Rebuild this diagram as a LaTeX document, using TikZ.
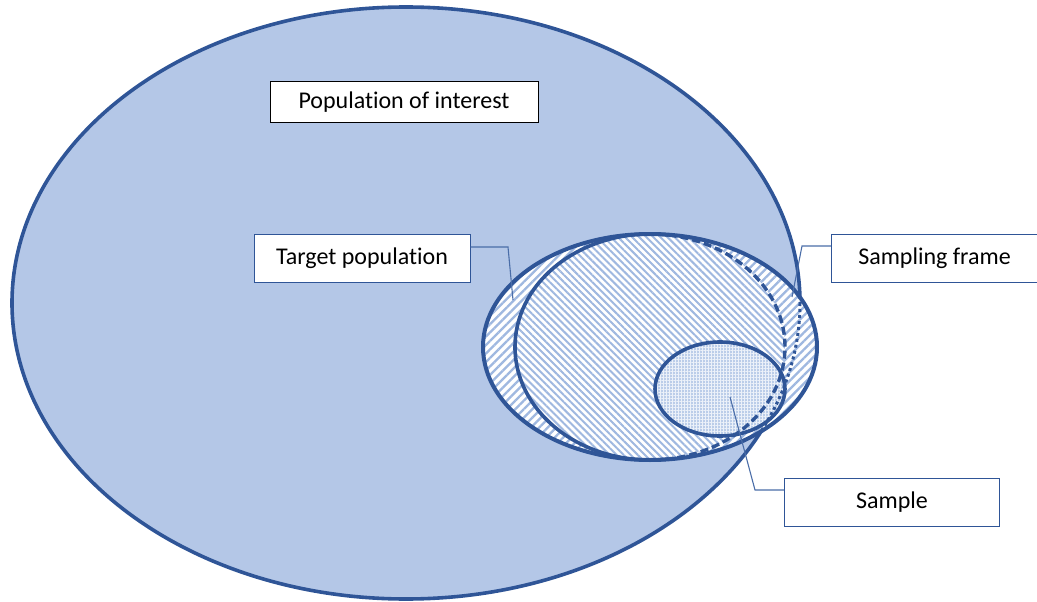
\documentclass[tikz,border=0pt]{standalone}
\usepackage{fontspec}
\setmainfont{Carlito}[Ligatures=NoCommon]
\usetikzlibrary{patterns.meta}
\definecolor{popfill}{HTML}{B4C7E7}
\definecolor{edge}{HTML}{2F5597}
\definecolor{hatch}{HTML}{9FB8E0}
\definecolor{leader}{HTML}{4A6DA8}
\tikzset{
  outline/.style={draw=edge, line width=3.6pt},
  labelbox/.style={draw=edge, line width=1pt, fill=white, minimum height=48pt, inner sep=0pt, font=\fontsize{24}{28}\selectfont, text=black},
  leaderline/.style={draw=leader, line width=1.1pt},
  dashline/.style={draw=edge, line width=3.4pt, dash pattern=on 8pt off 4pt},
  dotline/.style={draw=edge, line width=3pt, dash pattern=on 3pt off 3pt},
}
\begin{document}
\begin{tikzpicture}[x=1pt, y=-1pt]
\useasboundingbox (0,0) rectangle (1037,602);
% population of interest
\path[fill=popfill, outline] (406,303) ellipse [x radius=394, y radius=296];
% target population
\path[fill=white] (650,347) ellipse [x radius=167, y radius=113];
\path[pattern={Lines[angle=45, distance=6pt, line width=2.3pt]}, pattern color=hatch] (650,347) ellipse [x radius=167, y radius=113];
% sampling frame
\path[fill=white] (650,347) ellipse [x radius=135, y radius=113];
\path[pattern={Lines[angle=-45, distance=5pt, line width=2pt]}, pattern color=hatch] (650,347) ellipse [x radius=135, y radius=113];
% sample
\path[fill=popfill!90!white] (720,389) ellipse [x radius=65, y radius=47];
\path[pattern={Hatch[distance=3pt, line width=0.8pt]}, pattern color=white!75!popfill] (720,389) ellipse [x radius=65, y radius=47];
\path[outline] (720,389) ellipse [x radius=65, y radius=47];
% boundary of population of interest inside target population
\begin{scope}
\clip (650,347) ellipse [x radius=167, y radius=113];
\path[dotline] (406,303) ellipse [x radius=394, y radius=296];
\end{scope}
% sampling frame outline
\path[outline] (650,347) ++(278:135 and 113) arc [start angle=278, end angle=82, x radius=135, y radius=113];
\path[dashline] (650,347) ++(-82:135 and 113) arc [start angle=-82, end angle=82, x radius=135, y radius=113];
% target outline
\path[draw=edge, line width=4pt] (650,347) ellipse [x radius=167, y radius=113];
% labels
\node[labelbox, draw=black, line width=1pt, minimum width=268pt, minimum height=40pt] (poi) at (404,102) {Population of interest};
\node[labelbox, minimum width=216pt] (tp) at (362,258) {Target population};
\node[labelbox, minimum width=206pt, anchor=west] (sf) at (831,258) {Sampling frame};
\node[labelbox, minimum width=215pt] (sa) at (892,502) {Sample};
% leaders
\coordinate (tpend) at (513,300);
\coordinate (tpbend) at (508,247);
\coordinate (sfend) at (792,297);
\coordinate (sfbend) at (802,246);
\coordinate (saend) at (730,397);
\coordinate (sabend) at (755,490);
\path[leaderline] (tp.east |- tpbend) -- (tpbend) -- (tpend);
\path[leaderline] (sf.west |- sfbend) -- (sfbend) -- (sfend);
\path[leaderline] (sa.west |- sabend) -- (sabend) -- (saend);
\end{tikzpicture}
\end{document}
